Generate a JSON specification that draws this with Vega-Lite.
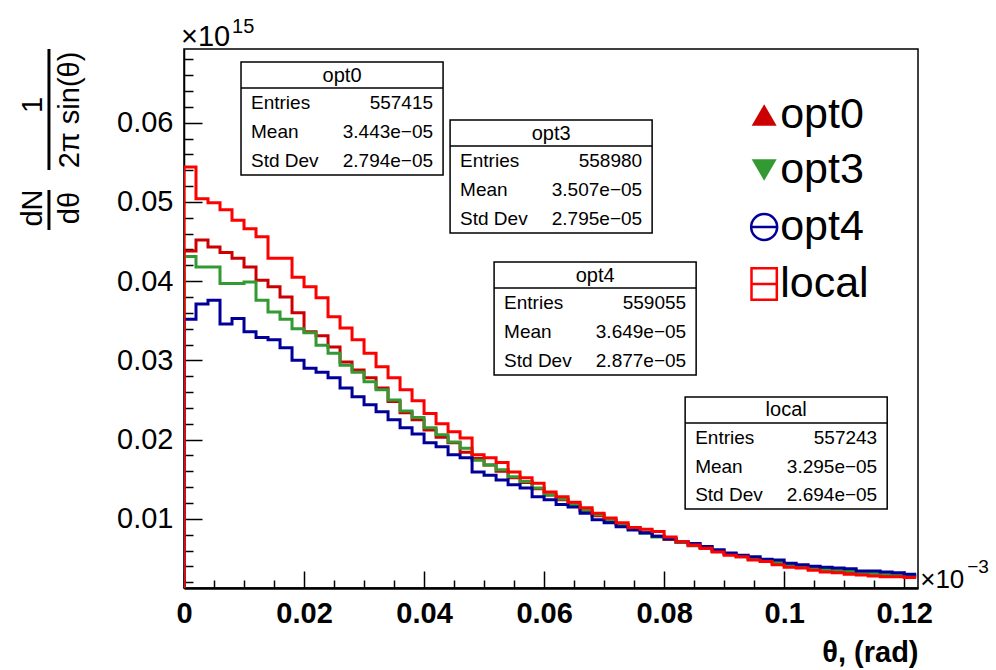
{
"$schema":"https://vega.github.io/schema/vega-lite/v6.json",
"autosize":"none","width":734,"height":539,
"padding":{"left":184,"top":49,"right":78,"bottom":82},
"background":"white",
"config":{"view":{"stroke":"black","strokeWidth":1.5},"font":"Liberation Sans","text":{"font":"Liberation Sans","color":"black"}},
"resolve":{"axis":{"x":"independent","y":"independent"}},
"datasets":{
"stats":[{"name":"opt0","entries":"557415","mean":"3.443e−05","std":"2.794e−05"},{"name":"opt3","entries":"558980","mean":"3.507e−05","std":"2.795e−05"},{"name":"opt4","entries":"559055","mean":"3.649e−05","std":"2.877e−05"},{"name":"local","entries":"557243","mean":"3.295e−05","std":"2.694e−05"}],
"hist":[
{"s":"opt0","x":0,"y":0},{"s":"opt0","x":0,"y":0.0438},{"s":"opt0","x":0.002,"y":0.0452},{"s":"opt0","x":0.004,"y":0.0443},{"s":"opt0","x":0.006,"y":0.0436},{"s":"opt0","x":0.008,"y":0.0429},{"s":"opt0","x":0.01,"y":0.0418},{"s":"opt0","x":0.012,"y":0.0401},{"s":"opt0","x":0.014,"y":0.0393},{"s":"opt0","x":0.016,"y":0.038},{"s":"opt0","x":0.018,"y":0.036},{"s":"opt0","x":0.02,"y":0.0336},{"s":"opt0","x":0.022,"y":0.0331},{"s":"opt0","x":0.024,"y":0.0317},{"s":"opt0","x":0.026,"y":0.0298},{"s":"opt0","x":0.028,"y":0.0288},{"s":"opt0","x":0.03,"y":0.0278},{"s":"opt0","x":0.032,"y":0.0265},{"s":"opt0","x":0.034,"y":0.0248},{"s":"opt0","x":0.036,"y":0.0234},{"s":"opt0","x":0.038,"y":0.0225},{"s":"opt0","x":0.04,"y":0.0212},{"s":"opt0","x":0.042,"y":0.0203},{"s":"opt0","x":0.044,"y":0.0196},{"s":"opt0","x":0.046,"y":0.0184},{"s":"opt0","x":0.048,"y":0.0176},{"s":"opt0","x":0.05,"y":0.0168},{"s":"opt0","x":0.052,"y":0.016},{"s":"opt0","x":0.054,"y":0.0152},{"s":"opt0","x":0.056,"y":0.0146},{"s":"opt0","x":0.058,"y":0.0138},{"s":"opt0","x":0.06,"y":0.013},{"s":"opt0","x":0.062,"y":0.0124},{"s":"opt0","x":0.064,"y":0.0117},{"s":"opt0","x":0.066,"y":0.011},{"s":"opt0","x":0.068,"y":0.0104},{"s":"opt0","x":0.07,"y":0.0098},{"s":"opt0","x":0.072,"y":0.0093},{"s":"opt0","x":0.074,"y":0.0088},{"s":"opt0","x":0.076,"y":0.0083},{"s":"opt0","x":0.078,"y":0.0078},{"s":"opt0","x":0.08,"y":0.0074},{"s":"opt0","x":0.082,"y":0.007},{"s":"opt0","x":0.084,"y":0.0066},{"s":"opt0","x":0.086,"y":0.0063},{"s":"opt0","x":0.088,"y":0.0059},{"s":"opt0","x":0.09,"y":0.0055},{"s":"opt0","x":0.092,"y":0.0052},{"s":"opt0","x":0.094,"y":0.0049},{"s":"opt0","x":0.096,"y":0.0047},{"s":"opt0","x":0.098,"y":0.0044},{"s":"opt0","x":0.1,"y":0.0041},{"s":"opt0","x":0.102,"y":0.0039},{"s":"opt0","x":0.104,"y":0.0037},{"s":"opt0","x":0.106,"y":0.0035},{"s":"opt0","x":0.108,"y":0.0034},{"s":"opt0","x":0.11,"y":0.0033},{"s":"opt0","x":0.112,"y":0.0031},{"s":"opt0","x":0.114,"y":0.003},{"s":"opt0","x":0.116,"y":0.0029},{"s":"opt0","x":0.118,"y":0.0029},{"s":"opt0","x":0.12,"y":0.0028},{"s":"opt0","x":0.122,"y":0.0028},
{"s":"opt3","x":0,"y":0},{"s":"opt3","x":0,"y":0.0431},{"s":"opt3","x":0.002,"y":0.0418},{"s":"opt3","x":0.004,"y":0.0418},{"s":"opt3","x":0.006,"y":0.0397},{"s":"opt3","x":0.008,"y":0.0397},{"s":"opt3","x":0.01,"y":0.0399},{"s":"opt3","x":0.012,"y":0.0376},{"s":"opt3","x":0.014,"y":0.0361},{"s":"opt3","x":0.016,"y":0.0352},{"s":"opt3","x":0.018,"y":0.034},{"s":"opt3","x":0.02,"y":0.0335},{"s":"opt3","x":0.022,"y":0.0319},{"s":"opt3","x":0.024,"y":0.0309},{"s":"opt3","x":0.026,"y":0.0294},{"s":"opt3","x":0.028,"y":0.0285},{"s":"opt3","x":0.03,"y":0.0273},{"s":"opt3","x":0.032,"y":0.0263},{"s":"opt3","x":0.034,"y":0.025},{"s":"opt3","x":0.036,"y":0.0236},{"s":"opt3","x":0.038,"y":0.0228},{"s":"opt3","x":0.04,"y":0.0215},{"s":"opt3","x":0.042,"y":0.0206},{"s":"opt3","x":0.044,"y":0.0197},{"s":"opt3","x":0.046,"y":0.0189},{"s":"opt3","x":0.048,"y":0.0174},{"s":"opt3","x":0.05,"y":0.0168},{"s":"opt3","x":0.052,"y":0.0162},{"s":"opt3","x":0.054,"y":0.0153},{"s":"opt3","x":0.056,"y":0.0147},{"s":"opt3","x":0.058,"y":0.0139},{"s":"opt3","x":0.06,"y":0.013},{"s":"opt3","x":0.062,"y":0.0125},{"s":"opt3","x":0.064,"y":0.0118},{"s":"opt3","x":0.066,"y":0.0111},{"s":"opt3","x":0.068,"y":0.0105},{"s":"opt3","x":0.07,"y":0.0099},{"s":"opt3","x":0.072,"y":0.0093},{"s":"opt3","x":0.074,"y":0.0089},{"s":"opt3","x":0.076,"y":0.0082},{"s":"opt3","x":0.078,"y":0.0077},{"s":"opt3","x":0.08,"y":0.0075},{"s":"opt3","x":0.082,"y":0.007},{"s":"opt3","x":0.084,"y":0.0067},{"s":"opt3","x":0.086,"y":0.0064},{"s":"opt3","x":0.088,"y":0.0059},{"s":"opt3","x":0.09,"y":0.0056},{"s":"opt3","x":0.092,"y":0.0053},{"s":"opt3","x":0.094,"y":0.005},{"s":"opt3","x":0.096,"y":0.0047},{"s":"opt3","x":0.098,"y":0.0045},{"s":"opt3","x":0.1,"y":0.0041},{"s":"opt3","x":0.102,"y":0.004},{"s":"opt3","x":0.104,"y":0.0037},{"s":"opt3","x":0.106,"y":0.0036},{"s":"opt3","x":0.108,"y":0.0035},{"s":"opt3","x":0.11,"y":0.0034},{"s":"opt3","x":0.112,"y":0.0031},{"s":"opt3","x":0.114,"y":0.0031},{"s":"opt3","x":0.116,"y":0.003},{"s":"opt3","x":0.118,"y":0.0029},{"s":"opt3","x":0.12,"y":0.0028},{"s":"opt3","x":0.122,"y":0.0028},
{"s":"opt4","x":0,"y":0},{"s":"opt4","x":0,"y":0.0352},{"s":"opt4","x":0.002,"y":0.0371},{"s":"opt4","x":0.004,"y":0.0376},{"s":"opt4","x":0.006,"y":0.0346},{"s":"opt4","x":0.008,"y":0.0353},{"s":"opt4","x":0.01,"y":0.0336},{"s":"opt4","x":0.012,"y":0.0329},{"s":"opt4","x":0.014,"y":0.0326},{"s":"opt4","x":0.016,"y":0.0316},{"s":"opt4","x":0.018,"y":0.03},{"s":"opt4","x":0.02,"y":0.029},{"s":"opt4","x":0.022,"y":0.0285},{"s":"opt4","x":0.024,"y":0.0278},{"s":"opt4","x":0.026,"y":0.0265},{"s":"opt4","x":0.028,"y":0.0254},{"s":"opt4","x":0.03,"y":0.0244},{"s":"opt4","x":0.032,"y":0.0235},{"s":"opt4","x":0.034,"y":0.0225},{"s":"opt4","x":0.036,"y":0.0215},{"s":"opt4","x":0.038,"y":0.0207},{"s":"opt4","x":0.04,"y":0.0196},{"s":"opt4","x":0.042,"y":0.0191},{"s":"opt4","x":0.044,"y":0.0181},{"s":"opt4","x":0.046,"y":0.0177},{"s":"opt4","x":0.048,"y":0.0159},{"s":"opt4","x":0.05,"y":0.0155},{"s":"opt4","x":0.052,"y":0.0149},{"s":"opt4","x":0.054,"y":0.0143},{"s":"opt4","x":0.056,"y":0.0139},{"s":"opt4","x":0.058,"y":0.0128},{"s":"opt4","x":0.06,"y":0.0124},{"s":"opt4","x":0.062,"y":0.0118},{"s":"opt4","x":0.064,"y":0.0115},{"s":"opt4","x":0.066,"y":0.0107},{"s":"opt4","x":0.068,"y":0.0099},{"s":"opt4","x":0.07,"y":0.0095},{"s":"opt4","x":0.072,"y":0.009},{"s":"opt4","x":0.074,"y":0.0086},{"s":"opt4","x":0.076,"y":0.0082},{"s":"opt4","x":0.078,"y":0.0078},{"s":"opt4","x":0.08,"y":0.0075},{"s":"opt4","x":0.082,"y":0.0071},{"s":"opt4","x":0.084,"y":0.0069},{"s":"opt4","x":0.086,"y":0.0065},{"s":"opt4","x":0.088,"y":0.0061},{"s":"opt4","x":0.09,"y":0.0057},{"s":"opt4","x":0.092,"y":0.0054},{"s":"opt4","x":0.094,"y":0.0052},{"s":"opt4","x":0.096,"y":0.0049},{"s":"opt4","x":0.098,"y":0.0048},{"s":"opt4","x":0.1,"y":0.0044},{"s":"opt4","x":0.102,"y":0.0042},{"s":"opt4","x":0.104,"y":0.004},{"s":"opt4","x":0.106,"y":0.0039},{"s":"opt4","x":0.108,"y":0.0038},{"s":"opt4","x":0.11,"y":0.0037},{"s":"opt4","x":0.112,"y":0.0034},{"s":"opt4","x":0.114,"y":0.0034},{"s":"opt4","x":0.116,"y":0.0033},{"s":"opt4","x":0.118,"y":0.0032},{"s":"opt4","x":0.12,"y":0.003},{"s":"opt4","x":0.122,"y":0.003},
{"s":"local","x":0,"y":0},{"s":"local","x":0,"y":0.0544},{"s":"local","x":0.002,"y":0.0504},{"s":"local","x":0.004,"y":0.0499},{"s":"local","x":0.006,"y":0.049},{"s":"local","x":0.008,"y":0.0477},{"s":"local","x":0.01,"y":0.0466},{"s":"local","x":0.012,"y":0.0456},{"s":"local","x":0.014,"y":0.0429},{"s":"local","x":0.016,"y":0.0429},{"s":"local","x":0.018,"y":0.0405},{"s":"local","x":0.02,"y":0.0393},{"s":"local","x":0.022,"y":0.0379},{"s":"local","x":0.024,"y":0.0355},{"s":"local","x":0.026,"y":0.0341},{"s":"local","x":0.028,"y":0.0326},{"s":"local","x":0.03,"y":0.0309},{"s":"local","x":0.032,"y":0.0292},{"s":"local","x":0.034,"y":0.0278},{"s":"local","x":0.036,"y":0.0263},{"s":"local","x":0.038,"y":0.0249},{"s":"local","x":0.04,"y":0.0233},{"s":"local","x":0.042,"y":0.022},{"s":"local","x":0.044,"y":0.021},{"s":"local","x":0.046,"y":0.0202},{"s":"local","x":0.048,"y":0.0181},{"s":"local","x":0.05,"y":0.0177},{"s":"local","x":0.052,"y":0.0171},{"s":"local","x":0.054,"y":0.0159},{"s":"local","x":0.056,"y":0.0152},{"s":"local","x":0.058,"y":0.0145},{"s":"local","x":0.06,"y":0.0134},{"s":"local","x":0.062,"y":0.0128},{"s":"local","x":0.064,"y":0.0121},{"s":"local","x":0.066,"y":0.0114},{"s":"local","x":0.068,"y":0.0107},{"s":"local","x":0.07,"y":0.0101},{"s":"local","x":0.072,"y":0.0095},{"s":"local","x":0.074,"y":0.0089},{"s":"local","x":0.076,"y":0.0087},{"s":"local","x":0.078,"y":0.0084},{"s":"local","x":0.08,"y":0.0077},{"s":"local","x":0.082,"y":0.0071},{"s":"local","x":0.084,"y":0.0067},{"s":"local","x":0.086,"y":0.0063},{"s":"local","x":0.088,"y":0.0058},{"s":"local","x":0.09,"y":0.0054},{"s":"local","x":0.092,"y":0.0052},{"s":"local","x":0.094,"y":0.0048},{"s":"local","x":0.096,"y":0.0046},{"s":"local","x":0.098,"y":0.0042},{"s":"local","x":0.1,"y":0.0039},{"s":"local","x":0.102,"y":0.0038},{"s":"local","x":0.104,"y":0.0035},{"s":"local","x":0.106,"y":0.0033},{"s":"local","x":0.108,"y":0.0032},{"s":"local","x":0.11,"y":0.003},{"s":"local","x":0.112,"y":0.0029},{"s":"local","x":0.114,"y":0.0028},{"s":"local","x":0.116,"y":0.0027},{"s":"local","x":0.118,"y":0.0027},{"s":"local","x":0.12,"y":0.0026},{"s":"local","x":0.122,"y":0.0026}
]},
"layer":[
{"data":{"name":"hist"},"mark":{"type":"point","opacity":0},
 "encoding":{
  "x":{"field":"x","type":"quantitative","scale":{"domain":[0,0.1223],"nice":false,"zero":false},
   "axis":{"orient":"bottom","values":[0.005,0.01,0.015,0.025,0.03,0.035,0.045,0.05,0.055,0.065,0.07,0.075,0.085,0.09,0.095,0.105,0.11,0.115],"tickSize":-8,"tickWidth":1.5,"tickColor":"black","labels":false,"domain":false,"grid":false,"title":null}},
  "y":{"field":"y","type":"quantitative","scale":{"domain":[0.00127,0.0693],"nice":false,"zero":false},
   "axis":{"orient":"left","values":[0.002,0.004,0.006,0.008,0.012,0.014,0.016,0.018,0.022,0.024,0.026,0.028,0.032,0.034,0.036,0.038,0.042,0.044,0.046,0.048,0.052,0.054,0.056,0.058,0.062,0.064,0.066,0.068],"tickSize":-9,"tickWidth":1.5,"tickColor":"black","labels":false,"domain":false,"grid":false,"title":null}}
 }},
{"data":{"name":"hist"},"mark":{"type":"line","interpolate":"step-after","strokeWidth":3,"clip":true,"strokeCap":"butt","strokeJoin":"miter"},
 "encoding":{
  "x":{"field":"x","type":"quantitative",
   "axis":{"orient":"bottom","values":[0,0.02,0.04,0.06,0.08,0.1,0.12],"format":"~g","tickSize":-17,"tickWidth":1.5,"tickColor":"black","domainColor":"black","domainWidth":2.5,"labelFont":"Liberation Sans","labelFontSize":29,"labelFontWeight":"bold","labelColor":"black","labelPadding":28,"labelFlush":false,"grid":false,
    "title":"θ, (rad)","titleFont":"Liberation Sans","titleFontSize":29,"titleFontWeight":"bold","titleColor":"black","titleAnchor":"end","titlePadding":10}},
  "y":{"field":"y","type":"quantitative",
   "axis":{"orient":"left","values":[0.01,0.02,0.03,0.04,0.05,0.06],"format":"~g","tickSize":-18,"tickWidth":1.5,"tickColor":"black","domainColor":"black","domainWidth":1.5,"labelFont":"Liberation Sans","labelFontSize":29,"labelColor":"black","labelPadding":29,"grid":false,"title":null}},
  "color":{"field":"s","type":"nominal","scale":{"domain":["opt0","opt3","opt4","local"],"range":["#cc0000","#339933","#000099","#ff0000"]},"legend":null}
 }},

{"data":{"values":[{}]},"mark":{"type":"rect","fill":"white","stroke":"black","strokeWidth":1.5},"encoding":{"x":{"datum":0.0095,"axis":null},"x2":{"datum":0.043167},"y":{"datum":0.067659,"axis":null},"y2":{"datum":0.053396}}},
{"data":{"values":[{}]},"mark":{"type":"rule","color":"black","strokeWidth":1.5},"encoding":{"x":{"datum":0.0095,"axis":null},"x2":{"datum":0.043167},"y":{"datum":0.064377,"axis":null}}},
{"data":{"name":"stats"},"transform":[{"filter":"datum.name==='opt0'"}],"mark":{"type":"text","fontSize":20,"align":"center","baseline":"middle"},"encoding":{"text":{"field":"name"},"x":{"datum":0.026333,"axis":null},"y":{"datum":0.065955,"axis":null}}},
{"data":{"values":[{}]},"mark":{"type":"text","text":"Entries","fontSize":19,"align":"left","baseline":"middle"},"encoding":{"x":{"datum":0.011167,"axis":null},"y":{"datum":0.062484,"axis":null}}},
{"data":{"values":[{}]},"mark":{"type":"text","text":"Mean","fontSize":19,"align":"left","baseline":"middle"},"encoding":{"x":{"datum":0.011167,"axis":null},"y":{"datum":0.058824,"axis":null}}},
{"data":{"values":[{}]},"mark":{"type":"text","text":"Std Dev","fontSize":19,"align":"left","baseline":"middle"},"encoding":{"x":{"datum":0.011167,"axis":null},"y":{"datum":0.055163,"axis":null}}},
{"data":{"name":"stats"},"transform":[{"filter":"datum.name==='opt0'"}],"mark":{"type":"text","fontSize":19,"align":"right","baseline":"middle"},"encoding":{"text":{"field":"entries"},"x":{"datum":0.0415,"axis":null},"y":{"datum":0.062484,"axis":null}}},
{"data":{"name":"stats"},"transform":[{"filter":"datum.name==='opt0'"}],"mark":{"type":"text","fontSize":19,"align":"right","baseline":"middle"},"encoding":{"text":{"field":"mean"},"x":{"datum":0.0415,"axis":null},"y":{"datum":0.058824,"axis":null}}},
{"data":{"name":"stats"},"transform":[{"filter":"datum.name==='opt0'"}],"mark":{"type":"text","fontSize":19,"align":"right","baseline":"middle"},"encoding":{"text":{"field":"std"},"x":{"datum":0.0415,"axis":null},"y":{"datum":0.055163,"axis":null}}},

{"data":{"values":[{}]},"mark":{"type":"rect","fill":"white","stroke":"black","strokeWidth":1.5},"encoding":{"x":{"datum":0.044333,"axis":null},"x2":{"datum":0.078},"y":{"datum":0.060338,"axis":null},"y2":{"datum":0.046075}}},
{"data":{"values":[{}]},"mark":{"type":"rule","color":"black","strokeWidth":1.5},"encoding":{"x":{"datum":0.044333,"axis":null},"x2":{"datum":0.078},"y":{"datum":0.057057,"axis":null}}},
{"data":{"name":"stats"},"transform":[{"filter":"datum.name==='opt3'"}],"mark":{"type":"text","fontSize":20,"align":"center","baseline":"middle"},"encoding":{"text":{"field":"name"},"x":{"datum":0.061167,"axis":null},"y":{"datum":0.058634,"axis":null}}},
{"data":{"values":[{}]},"mark":{"type":"text","text":"Entries","fontSize":19,"align":"left","baseline":"middle"},"encoding":{"x":{"datum":0.046,"axis":null},"y":{"datum":0.055163,"axis":null}}},
{"data":{"values":[{}]},"mark":{"type":"text","text":"Mean","fontSize":19,"align":"left","baseline":"middle"},"encoding":{"x":{"datum":0.046,"axis":null},"y":{"datum":0.051503,"axis":null}}},
{"data":{"values":[{}]},"mark":{"type":"text","text":"Std Dev","fontSize":19,"align":"left","baseline":"middle"},"encoding":{"x":{"datum":0.046,"axis":null},"y":{"datum":0.047843,"axis":null}}},
{"data":{"name":"stats"},"transform":[{"filter":"datum.name==='opt3'"}],"mark":{"type":"text","fontSize":19,"align":"right","baseline":"middle"},"encoding":{"text":{"field":"entries"},"x":{"datum":0.076333,"axis":null},"y":{"datum":0.055163,"axis":null}}},
{"data":{"name":"stats"},"transform":[{"filter":"datum.name==='opt3'"}],"mark":{"type":"text","fontSize":19,"align":"right","baseline":"middle"},"encoding":{"text":{"field":"mean"},"x":{"datum":0.076333,"axis":null},"y":{"datum":0.051503,"axis":null}}},
{"data":{"name":"stats"},"transform":[{"filter":"datum.name==='opt3'"}],"mark":{"type":"text","fontSize":19,"align":"right","baseline":"middle"},"encoding":{"text":{"field":"std"},"x":{"datum":0.076333,"axis":null},"y":{"datum":0.047843,"axis":null}}},

{"data":{"values":[{}]},"mark":{"type":"rect","fill":"white","stroke":"black","strokeWidth":1.5},"encoding":{"x":{"datum":0.051667,"axis":null},"x2":{"datum":0.085333},"y":{"datum":0.042415,"axis":null},"y2":{"datum":0.028152}}},
{"data":{"values":[{}]},"mark":{"type":"rule","color":"black","strokeWidth":1.5},"encoding":{"x":{"datum":0.051667,"axis":null},"x2":{"datum":0.085333},"y":{"datum":0.039134,"axis":null}}},
{"data":{"name":"stats"},"transform":[{"filter":"datum.name==='opt4'"}],"mark":{"type":"text","fontSize":20,"align":"center","baseline":"middle"},"encoding":{"text":{"field":"name"},"x":{"datum":0.0685,"axis":null},"y":{"datum":0.040711,"axis":null}}},
{"data":{"values":[{}]},"mark":{"type":"text","text":"Entries","fontSize":19,"align":"left","baseline":"middle"},"encoding":{"x":{"datum":0.053333,"axis":null},"y":{"datum":0.03724,"axis":null}}},
{"data":{"values":[{}]},"mark":{"type":"text","text":"Mean","fontSize":19,"align":"left","baseline":"middle"},"encoding":{"x":{"datum":0.053333,"axis":null},"y":{"datum":0.03358,"axis":null}}},
{"data":{"values":[{}]},"mark":{"type":"text","text":"Std Dev","fontSize":19,"align":"left","baseline":"middle"},"encoding":{"x":{"datum":0.053333,"axis":null},"y":{"datum":0.02992,"axis":null}}},
{"data":{"name":"stats"},"transform":[{"filter":"datum.name==='opt4'"}],"mark":{"type":"text","fontSize":19,"align":"right","baseline":"middle"},"encoding":{"text":{"field":"entries"},"x":{"datum":0.083667,"axis":null},"y":{"datum":0.03724,"axis":null}}},
{"data":{"name":"stats"},"transform":[{"filter":"datum.name==='opt4'"}],"mark":{"type":"text","fontSize":19,"align":"right","baseline":"middle"},"encoding":{"text":{"field":"mean"},"x":{"datum":0.083667,"axis":null},"y":{"datum":0.03358,"axis":null}}},
{"data":{"name":"stats"},"transform":[{"filter":"datum.name==='opt4'"}],"mark":{"type":"text","fontSize":19,"align":"right","baseline":"middle"},"encoding":{"text":{"field":"std"},"x":{"datum":0.083667,"axis":null},"y":{"datum":0.02992,"axis":null}}},

{"data":{"values":[{}]},"mark":{"type":"rect","fill":"white","stroke":"black","strokeWidth":1.5},"encoding":{"x":{"datum":0.0835,"axis":null},"x2":{"datum":0.117167},"y":{"datum":0.025376,"axis":null},"y2":{"datum":0.011239}}},
{"data":{"values":[{}]},"mark":{"type":"rule","color":"black","strokeWidth":1.5},"encoding":{"x":{"datum":0.0835,"axis":null},"x2":{"datum":0.117167},"y":{"datum":0.022094,"axis":null}}},
{"data":{"name":"stats"},"transform":[{"filter":"datum.name==='local'"}],"mark":{"type":"text","fontSize":20,"align":"center","baseline":"middle"},"encoding":{"text":{"field":"name"},"x":{"datum":0.100333,"axis":null},"y":{"datum":0.023735,"axis":null}}},
{"data":{"values":[{}]},"mark":{"type":"text","text":"Entries","fontSize":19,"align":"left","baseline":"middle"},"encoding":{"x":{"datum":0.085167,"axis":null},"y":{"datum":0.0202,"axis":null}}},
{"data":{"values":[{}]},"mark":{"type":"text","text":"Mean","fontSize":19,"align":"left","baseline":"middle"},"encoding":{"x":{"datum":0.085167,"axis":null},"y":{"datum":0.01654,"axis":null}}},
{"data":{"values":[{}]},"mark":{"type":"text","text":"Std Dev","fontSize":19,"align":"left","baseline":"middle"},"encoding":{"x":{"datum":0.085167,"axis":null},"y":{"datum":0.013006,"axis":null}}},
{"data":{"name":"stats"},"transform":[{"filter":"datum.name==='local'"}],"mark":{"type":"text","fontSize":19,"align":"right","baseline":"middle"},"encoding":{"text":{"field":"entries"},"x":{"datum":0.1155,"axis":null},"y":{"datum":0.0202,"axis":null}}},
{"data":{"name":"stats"},"transform":[{"filter":"datum.name==='local'"}],"mark":{"type":"text","fontSize":19,"align":"right","baseline":"middle"},"encoding":{"text":{"field":"mean"},"x":{"datum":0.1155,"axis":null},"y":{"datum":0.01654,"axis":null}}},
{"data":{"name":"stats"},"transform":[{"filter":"datum.name==='local'"}],"mark":{"type":"text","fontSize":19,"align":"right","baseline":"middle"},"encoding":{"text":{"field":"std"},"x":{"datum":0.1155,"axis":null},"y":{"datum":0.013006,"axis":null}}},

{"data":{"values":[{}]},"mark":{"type":"point","shape":"triangle-up","filled":true,"color":"#cc0000","opacity":1,"size":625},"encoding":{"x":{"datum":0.096667,"axis":null},"y":{"datum":0.06097,"axis":null}}},
{"data":{"values":[{}]},"mark":{"type":"point","shape":"triangle-down","filled":true,"color":"#339933","opacity":1,"size":625},"encoding":{"x":{"datum":0.096667,"axis":null},"y":{"datum":0.054027,"axis":null}}},
{"data":{"values":[{}]},"mark":{"type":"point","shape":"M-1,0A1,1,0,1,1,1,0A1,1,0,1,1,-1,0ZM-1,0L1,0","filled":false,"color":"#000099","opacity":1,"strokeWidth":2.5,"size":676},"encoding":{"x":{"datum":0.096667,"axis":null},"y":{"datum":0.046833,"axis":null}}},
{"data":{"values":[{}]},"mark":{"type":"point","shape":"M-0.8,-1L0.8,-1L0.8,1L-0.8,1ZM-0.8,0L0.8,0","filled":false,"color":"#ff0000","opacity":1,"strokeWidth":2.5,"size":1000},"encoding":{"x":{"datum":0.096667,"axis":null},"y":{"datum":0.039638,"axis":null}}},
{"data":{"values":[{}]},"mark":{"type":"text","text":"opt0","fontSize":43,"align":"left","baseline":"middle"},"encoding":{"x":{"datum":0.099333,"axis":null},"y":{"datum":0.06097,"axis":null}}},
{"data":{"values":[{}]},"mark":{"type":"text","text":"opt3","fontSize":43,"align":"left","baseline":"middle"},"encoding":{"x":{"datum":0.099333,"axis":null},"y":{"datum":0.054027,"axis":null}}},
{"data":{"values":[{}]},"mark":{"type":"text","text":"opt4","fontSize":43,"align":"left","baseline":"middle"},"encoding":{"x":{"datum":0.099333,"axis":null},"y":{"datum":0.046833,"axis":null}}},
{"data":{"values":[{}]},"mark":{"type":"text","text":"local","fontSize":43,"align":"left","baseline":"middle"},"encoding":{"x":{"datum":0.099333,"axis":null},"y":{"datum":0.039638,"axis":null}}},

{"data":{"values":[{}]},"mark":{"type":"text","text":"1","fontSize":29,"angle":270,"align":"center","baseline":"middle"},"encoding":{"x":{"datum":-0.025167,"axis":null},"y":{"datum":0.062232,"axis":null}}},
{"data":{"values":[{}]},"mark":{"type":"rule","color":"black","strokeWidth":3},"encoding":{"x":{"datum":-0.0225,"axis":null},"y":{"datum":0.0693,"axis":null},"y2":{"datum":0.05403}}},
{"data":{"values":[{}]},"mark":{"type":"text","text":"2π sin(θ)","fontSize":29,"angle":270,"align":"center","baseline":"middle"},"encoding":{"x":{"datum":-0.019,"axis":null},"y":{"datum":0.061601,"axis":null}}},
{"data":{"values":[{}]},"mark":{"type":"text","text":"dN","fontSize":29,"angle":270,"align":"center","baseline":"middle"},"encoding":{"x":{"datum":-0.025167,"axis":null},"y":{"datum":0.049231,"axis":null}}},
{"data":{"values":[{}]},"mark":{"type":"rule","color":"black","strokeWidth":3},"encoding":{"x":{"datum":-0.0225,"axis":null},"y":{"datum":0.051503,"axis":null},"y2":{"datum":0.046454}}},
{"data":{"values":[{}]},"mark":{"type":"text","text":"dθ","fontSize":29,"angle":270,"align":"center","baseline":"middle"},"encoding":{"x":{"datum":-0.019,"axis":null},"y":{"datum":0.049231,"axis":null}}},

{"data":{"values":[{}]},"mark":{"type":"text","text":"×10","fontSize":29,"align":"left","baseline":"alphabetic"},"encoding":{"x":{"datum":-0.0005,"axis":null},"y":{"datum":0.069679,"axis":null}}},
{"data":{"values":[{}]},"mark":{"type":"text","text":"15","fontSize":20,"align":"left","baseline":"alphabetic"},"encoding":{"x":{"datum":0.008,"axis":null},"y":{"datum":0.07132,"axis":null}}},
{"data":{"values":[{}]},"mark":{"type":"text","text":"×10","fontSize":26,"align":"left","baseline":"alphabetic"},"encoding":{"x":{"datum":0.122667,"axis":null},"y":{"datum":0.001267,"axis":null}}},
{"data":{"values":[{}]},"mark":{"type":"text","text":"−3","fontSize":19,"align":"left","baseline":"alphabetic"},"encoding":{"x":{"datum":0.1305,"axis":null},"y":{"datum":0.003161,"axis":null}}}
]
}
